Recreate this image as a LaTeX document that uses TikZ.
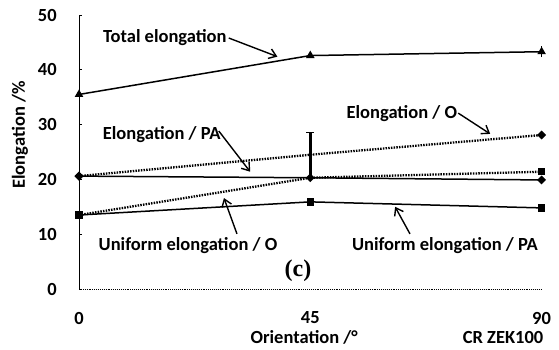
\documentclass[tikz,border=0pt]{standalone}
\usepackage{fontspec}
\setmainfont{Carlito}
\newfontfamily\serifc{Liberation Serif}
\usetikzlibrary{shapes.geometric,arrows.meta}

\tikzset{
  solidline/.style={line width=1.5pt},
  dotline/.style={line width=2.3pt, dash pattern=on 1.5pt off 1.2pt},
  tri/.style={regular polygon, regular polygon sides=3, fill, inner sep=0pt, minimum size=10pt},
  dia/.style={diamond, fill, inner sep=0pt, minimum size=9pt},
  sq/.style={rectangle, fill, inner sep=0pt, minimum size=7.5pt},
  lbl/.style={font=\bfseries\fontsize{18.5}{20}\selectfont, inner sep=0pt},
  pointer/.style={-{Straight Barb[length=7pt,width=10pt]}, line width=1.4pt},
}

\begin{document}
\begin{tikzpicture}[x=1pt,y=1pt]
\useasboundingbox (0,0) rectangle (559,349);
\begin{scope}[shift={(79,60)}, x=5.14pt, y=5.48pt]
% axes
\draw[densely dotted, line width=0.9pt] (0,0) -- (90,0);
\draw[line width=0.9pt] (0,0) -- (0,50);
\foreach \v in {0,10,...,50}{
  \draw[line width=0.7pt] (0,\v) -- (0.6,\v);
  \node[lbl, anchor=east] (yt\v) at (-4.3,\v) {\v};
}
\foreach \d in {0,45,90}
  \node[lbl] (xt\d) at (\d,-5.3) {\d};
\node[lbl] (xlab) at (43.8,-8.9) {Orientation /°};
\node[lbl] (alloy) at (82.5,-8.9) {CR ZEK100};
\node[lbl, rotate=90] (ylab) at (-11.5,28.1) {Elongation /\%};

% data points
\coordinate (t0) at (0,35.5);  \coordinate (t45) at (45,42.6); \coordinate (t90) at (90,43.3);
\coordinate (eo0) at (0,20.6); \coordinate (eo45) at (45,24.5); \coordinate (eo90) at (90,28.1);
\coordinate (ep0) at (0,20.6); \coordinate (ep45) at (45,20.3); \coordinate (ep90) at (90,19.9);
\coordinate (uo0) at (0,13.5); \coordinate (uo45) at (45,20.3); \coordinate (uo90) at (90,21.4);
\coordinate (up0) at (0,13.5); \coordinate (up45) at (45,15.9); \coordinate (up90) at (90,14.8);

% curves
\draw[solidline] (t0) -- (t45) -- (t90);
\draw[dotline] (eo0) -- (eo45) -- (eo90);
\draw[solidline] (ep0) -- (ep45) -- (ep90);
\draw[dotline] (uo0) -- (uo45) -- (uo90);
\draw[solidline] (up0) -- (up45) -- (up90);

% error bars
\draw[line width=2.4pt] (45,20.3) -- (45,28.6);
\draw[line width=1.2pt] (44.2,28.6) -- (45.8,28.6);
\draw[line width=1.6pt] (90,42.3) -- (90,44.3);

% markers
\foreach \p in {t0,t45,t90} \node[tri] at (\p) {};
\foreach \p in {eo0,eo90,ep0,ep45,ep90} \node[dia] at (\p) {};
\node[dia, minimum size=5pt] at (eo45) {};
\foreach \p in {uo90,up0,up45,up90} \node[sq] at (\p) {};

% labels
\node[lbl] (tot) at (16.7,45.8) {Total elongation};
\node[lbl] (epa) at (16.1,28.1) {Elongation / PA};
\node[lbl] (eo) at (62.8,32.1) {Elongation / O};
\node[lbl] (uo) at (21.2,8.0) {Uniform elongation / O};
\node[lbl] (upa) at (71.2,8.0) {Uniform elongation / PA};
\node[inner sep=0pt, font=\serifc\bfseries\fontsize{24}{26}\selectfont] (panel) at (42.6,3.3) {(c)};

\coordinate (tottip) at (38.6,42.4);
\coordinate (epatip) at (33.3,21.4);
\coordinate (eotip) at (80.0,28.3);
\coordinate (uotip) at (28.2,16.6);
\coordinate (upatip) at (61.5,15.0);
\draw[pointer] ([xshift=2pt]tot.east) -- (tottip);
\draw[pointer] ([xshift=-2pt,yshift=4pt]epa.east) -- (epatip);
\draw[pointer] ([xshift=1pt]eo.east) -- (eotip);
\draw[pointer] ([xshift=49pt,yshift=3pt]uo.north) -- (uotip);
\draw[pointer] ([xshift=-35pt,yshift=3pt]upa.north) -- (upatip);
\end{scope}
\end{tikzpicture}
\end{document}
